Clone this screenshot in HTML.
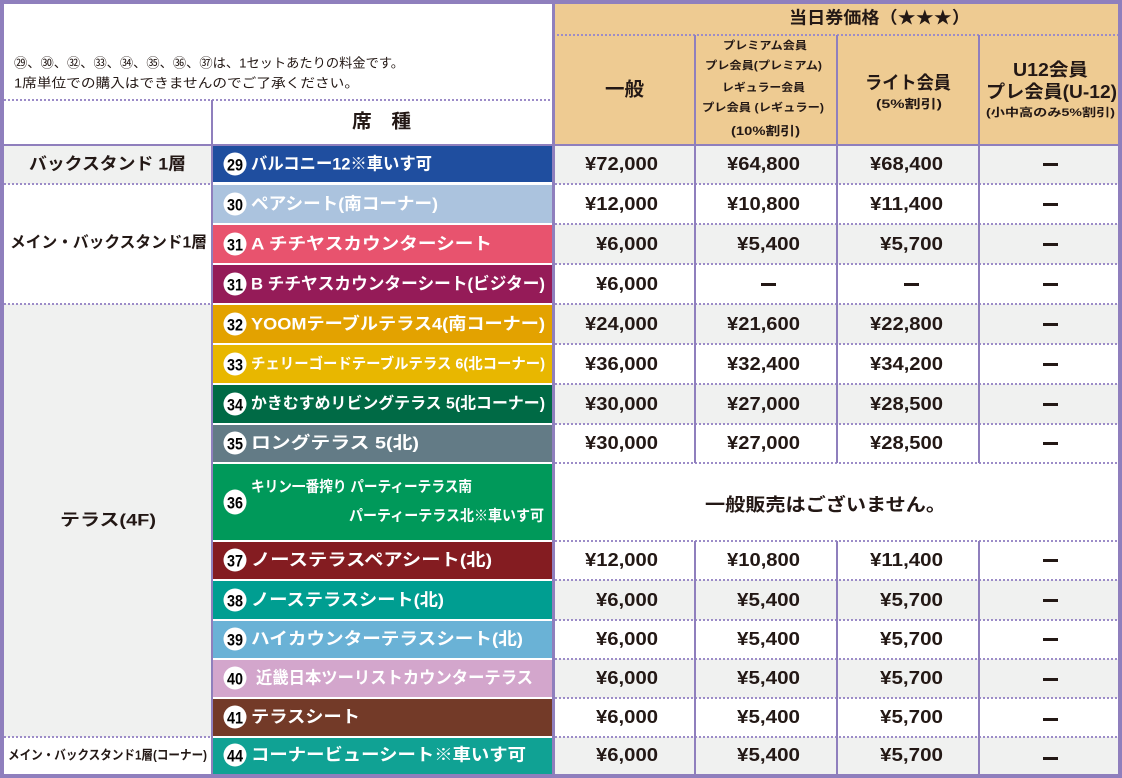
<!DOCTYPE html>
<html><head><meta charset="utf-8"><style>html,body{margin:0;padding:0;background:#fff}svg{display:block}</style></head><body>
<svg width="1122" height="778" viewBox="0 0 1122 778" xmlns="http://www.w3.org/2000/svg" font-family="'Liberation Sans','Noto Sans CJK JP',sans-serif">
<!-- backgrounds -->
<rect x="0" y="0" width="1122" height="778" fill="#fff"/>
<rect x="553" y="4" width="565" height="141" fill="#eecb92"/>
<!-- left label col bgs -->
<rect x="4" y="145" width="207" height="39" fill="#f0f1f0"/>
<rect x="4" y="304" width="207" height="433" fill="#f0f1f0"/>
<!-- price row bgs (gray rows) -->
<g fill="#f0f1f0">
<rect x="555" y="145" width="563" height="39"/>
<rect x="555" y="224" width="563" height="40"/>
<rect x="555" y="304" width="563" height="40"/>
<rect x="555" y="384" width="563" height="40"/>
<rect x="555" y="580" width="563" height="40"/>
<rect x="555" y="659" width="563" height="39"/>
<rect x="555" y="737" width="563" height="37"/>
</g>
<!-- seat cells -->
<g>
<rect x="213" y="145" width="339" height="37" fill="#1f4e9f"/>
<rect x="213" y="185" width="339" height="38" fill="#abc3de"/>
<rect x="213" y="225" width="339" height="38" fill="#e8536e"/>
<rect x="213" y="265" width="339" height="38" fill="#951b58"/>
<rect x="213" y="305" width="339" height="38" fill="#e3a200"/>
<rect x="213" y="345" width="339" height="38" fill="#e8b700"/>
<rect x="213" y="385" width="339" height="38" fill="#006a45"/>
<rect x="213" y="425" width="339" height="37" fill="#637b86"/>
<rect x="213" y="464" width="339" height="76" fill="#00995a"/>
<rect x="213" y="542" width="339" height="37" fill="#841c21"/>
<rect x="213" y="581" width="339" height="38" fill="#009e91"/>
<rect x="213" y="621" width="339" height="37" fill="#6ab2d6"/>
<rect x="213" y="660" width="339" height="37" fill="#d3a6cc"/>
<rect x="213" y="699" width="339" height="37" fill="#733a28"/>
<rect x="213" y="738" width="339" height="36" fill="#10a294"/>
</g>
<!-- dotted lines -->
<g stroke="#9c8cc8" stroke-width="2" stroke-dasharray="2 2" fill="none">
<line x1="553" y1="35" x2="1118" y2="35"/>
<line x1="4" y1="100" x2="553" y2="100"/>
<line x1="4" y1="184" x2="211" y2="184"/>
<line x1="4" y1="304" x2="211" y2="304"/>
<line x1="4" y1="737" x2="211" y2="737"/>
<line x1="555" y1="184" x2="1118" y2="184"/>
<line x1="555" y1="224" x2="1118" y2="224"/>
<line x1="555" y1="264" x2="1118" y2="264"/>
<line x1="555" y1="304" x2="1118" y2="304"/>
<line x1="555" y1="344" x2="1118" y2="344"/>
<line x1="555" y1="384" x2="1118" y2="384"/>
<line x1="555" y1="424" x2="1118" y2="424"/>
<line x1="555" y1="463" x2="1118" y2="463"/>
<line x1="555" y1="541" x2="1118" y2="541"/>
<line x1="555" y1="580" x2="1118" y2="580"/>
<line x1="555" y1="620" x2="1118" y2="620"/>
<line x1="555" y1="659" x2="1118" y2="659"/>
<line x1="555" y1="698" x2="1118" y2="698"/>
<line x1="555" y1="737" x2="1118" y2="737"/>
</g>
<!-- solid purple lines -->
<g fill="#8f7fbd">
<rect x="0" y="0" width="1122" height="4"/>
<rect x="0" y="774" width="1122" height="4"/>
<rect x="0" y="0" width="4" height="778"/>
<rect x="1118" y="0" width="4" height="778"/>
<rect x="0" y="144" width="1122" height="2"/>
<rect x="211" y="100" width="2" height="674"/>
<rect x="552" y="0" width="3" height="778"/>
<rect x="694" y="35" width="2" height="428"/>
<rect x="836" y="35" width="2" height="428"/>
<rect x="978" y="35" width="2" height="428"/>
<rect x="694" y="541" width="2" height="233"/>
<rect x="836" y="541" width="2" height="233"/>
<rect x="978" y="541" width="2" height="233"/>
</g>
<!-- header text -->
<g fill="#231815" dominant-baseline="central">
<text x="14" y="63" font-size="13" textLength="390" lengthAdjust="spacingAndGlyphs">㉙、㉚、㉜、㉝、㉞、㉟、㊱、㊲は、1セットあたりの料金です。</text>
<text x="14" y="83" font-size="13" textLength="345" lengthAdjust="spacingAndGlyphs">1席単位での購入はできませんのでご了承ください。</text>
<text x="352" y="122" font-size="19" font-weight="bold" textLength="59" lengthAdjust="spacingAndGlyphs">席　種</text>
<text x="789" y="18" font-size="17" font-weight="bold" textLength="181" lengthAdjust="spacingAndGlyphs">当日券価格（★★★）</text>
<text x="605" y="90" font-size="19" font-weight="bold" textLength="39" lengthAdjust="spacingAndGlyphs">一般</text>
<text x="723" y="46" font-size="11" font-weight="bold" textLength="84" lengthAdjust="spacingAndGlyphs">プレミアム会員</text>
<text x="705" y="66" font-size="11" font-weight="bold" textLength="117" lengthAdjust="spacingAndGlyphs">プレ会員(プレミアム)</text>
<text x="722" y="88" font-size="11" font-weight="bold" textLength="83" lengthAdjust="spacingAndGlyphs">レギュラー会員</text>
<text x="702" y="108" font-size="11" font-weight="bold" textLength="122" lengthAdjust="spacingAndGlyphs">プレ会員 (レギュラー)</text>
<text x="731" y="131" font-size="12" font-weight="bold" textLength="69" lengthAdjust="spacingAndGlyphs">(10%割引)</text>
<text x="865" y="83" font-size="18" font-weight="bold" textLength="86" lengthAdjust="spacingAndGlyphs">ライト会員</text>
<text x="876" y="104" font-size="12" font-weight="bold" textLength="66" lengthAdjust="spacingAndGlyphs">(5%割引)</text>
<text x="1013" y="70" font-size="18" font-weight="bold" textLength="75" lengthAdjust="spacingAndGlyphs">U12会員</text>
<text x="986" y="92" font-size="18" font-weight="bold" textLength="131" lengthAdjust="spacingAndGlyphs">プレ会員(U-12)</text>
<text x="986" y="113" font-size="11" font-weight="bold" textLength="129" lengthAdjust="spacingAndGlyphs">(小中高のみ5%割引)</text>
<!-- left labels -->
<text x="29" y="164" font-size="17" font-weight="bold" textLength="157" lengthAdjust="spacingAndGlyphs">バックスタンド 1層</text>
<text x="10" y="243" font-size="16" font-weight="bold" textLength="197" lengthAdjust="spacingAndGlyphs">メイン・バックスタンド1層</text>
<text x="60" y="520" font-size="17" font-weight="bold" textLength="96" lengthAdjust="spacingAndGlyphs">テラス(4F)</text>
<text x="8" y="755" font-size="13" font-weight="bold" textLength="199" lengthAdjust="spacingAndGlyphs">メイン・バックスタンド1層(コーナー)</text>
</g>
<!-- circles -->
<g fill="#fff">
<circle cx="235" cy="164" r="11.5"/>
<circle cx="235" cy="204" r="11.5"/>
<circle cx="235" cy="244" r="11.5"/>
<circle cx="235" cy="284" r="11.5"/>
<circle cx="235" cy="324" r="11.5"/>
<circle cx="235" cy="364" r="11.5"/>
<circle cx="235" cy="404" r="11.5"/>
<circle cx="235" cy="443" r="11.5"/>
<ellipse cx="235" cy="502" rx="11.5" ry="12.5"/>
<circle cx="235" cy="560" r="11.5"/>
<circle cx="235" cy="600" r="11.5"/>
<circle cx="235" cy="639" r="11.5"/>
<circle cx="235" cy="678" r="11.5"/>
<circle cx="235" cy="717" r="11.5"/>
<circle cx="235" cy="755" r="11.5"/>
</g>
<g fill="#000" font-size="17" font-weight="bold" dominant-baseline="central" text-anchor="middle">
<text x="235" y="165" textLength="16" lengthAdjust="spacingAndGlyphs">29</text>
<text x="235" y="205" textLength="16" lengthAdjust="spacingAndGlyphs">30</text>
<text x="235" y="245" textLength="16" lengthAdjust="spacingAndGlyphs">31</text>
<text x="235" y="285" textLength="16" lengthAdjust="spacingAndGlyphs">31</text>
<text x="235" y="325" textLength="16" lengthAdjust="spacingAndGlyphs">32</text>
<text x="235" y="365" textLength="16" lengthAdjust="spacingAndGlyphs">33</text>
<text x="235" y="405" textLength="16" lengthAdjust="spacingAndGlyphs">34</text>
<text x="235" y="444" textLength="16" lengthAdjust="spacingAndGlyphs">35</text>
<text x="235" y="503" textLength="16" lengthAdjust="spacingAndGlyphs">36</text>
<text x="235" y="561" textLength="16" lengthAdjust="spacingAndGlyphs">37</text>
<text x="235" y="601" textLength="16" lengthAdjust="spacingAndGlyphs">38</text>
<text x="235" y="640" textLength="16" lengthAdjust="spacingAndGlyphs">39</text>
<text x="235" y="679" textLength="16" lengthAdjust="spacingAndGlyphs">40</text>
<text x="235" y="718" textLength="16" lengthAdjust="spacingAndGlyphs">41</text>
<text x="235" y="756" textLength="16" lengthAdjust="spacingAndGlyphs">44</text>
</g>
<!-- seat names -->
<g fill="#fff" font-size="17" font-weight="bold" dominant-baseline="central" lengthAdjust="spacingAndGlyphs">
<text x="251" y="164" textLength="181" lengthAdjust="spacingAndGlyphs">バルコニー12※車いす可</text>
<text x="251" y="204" textLength="187" lengthAdjust="spacingAndGlyphs">ペアシート(南コーナー)</text>
<text x="251" y="244" textLength="241" lengthAdjust="spacingAndGlyphs">A チチヤスカウンターシート</text>
<text x="251" y="284" textLength="294" lengthAdjust="spacingAndGlyphs">B チチヤスカウンターシート(ビジター)</text>
<text x="251" y="324" textLength="294" lengthAdjust="spacingAndGlyphs">YOOMテーブルテラス4(南コーナー)</text>
<text x="251" y="364" font-size="15" textLength="294" lengthAdjust="spacingAndGlyphs">チェリーゴードテーブルテラス 6(北コーナー)</text>
<text x="251" y="404" font-size="16" textLength="294" lengthAdjust="spacingAndGlyphs">かきむすめリビングテラス 5(北コーナー)</text>
<text x="251" y="443" textLength="168" lengthAdjust="spacingAndGlyphs">ロングテラス 5(北)</text>
<text x="251" y="487" font-size="15" textLength="221" lengthAdjust="spacingAndGlyphs">キリン一番搾り パーティーテラス南</text>
<text x="349" y="516" font-size="15" textLength="195" lengthAdjust="spacingAndGlyphs">パーティーテラス北※車いす可</text>
<text x="251" y="560" textLength="241" lengthAdjust="spacingAndGlyphs">ノーステラスペアシート(北)</text>
<text x="251" y="600" textLength="193" lengthAdjust="spacingAndGlyphs">ノーステラスシート(北)</text>
<text x="251" y="639" textLength="272" lengthAdjust="spacingAndGlyphs">ハイカウンターテラスシート(北)</text>
<text x="256" y="678" textLength="277" lengthAdjust="spacingAndGlyphs">近畿日本ツーリストカウンターテラス</text>
<text x="251" y="717" textLength="109" lengthAdjust="spacingAndGlyphs">テラスシート</text>
<text x="251" y="755" textLength="275" lengthAdjust="spacingAndGlyphs">コーナービューシート※車いす可</text>
</g>
<!-- prices -->
<g fill="#231815" font-size="18" font-weight="bold" dominant-baseline="central" text-anchor="end">
<text x="658" y="164" textLength="73" lengthAdjust="spacingAndGlyphs">¥72,000</text><text x="800" y="164" textLength="73" lengthAdjust="spacingAndGlyphs">¥64,800</text><text x="943" y="164" textLength="73" lengthAdjust="spacingAndGlyphs">¥68,400</text>
<text x="658" y="204" textLength="73" lengthAdjust="spacingAndGlyphs">¥12,000</text><text x="800" y="204" textLength="73" lengthAdjust="spacingAndGlyphs">¥10,800</text><text x="943" y="204" textLength="73" lengthAdjust="spacingAndGlyphs">¥11,400</text>
<text x="658" y="244" textLength="62" lengthAdjust="spacingAndGlyphs">¥6,000</text><text x="800" y="244" textLength="63" lengthAdjust="spacingAndGlyphs">¥5,400</text><text x="943" y="244" textLength="63" lengthAdjust="spacingAndGlyphs">¥5,700</text>
<text x="658" y="284" textLength="62" lengthAdjust="spacingAndGlyphs">¥6,000</text>
<text x="658" y="324" textLength="73" lengthAdjust="spacingAndGlyphs">¥24,000</text><text x="800" y="324" textLength="73" lengthAdjust="spacingAndGlyphs">¥21,600</text><text x="943" y="324" textLength="73" lengthAdjust="spacingAndGlyphs">¥22,800</text>
<text x="658" y="364" textLength="73" lengthAdjust="spacingAndGlyphs">¥36,000</text><text x="800" y="364" textLength="73" lengthAdjust="spacingAndGlyphs">¥32,400</text><text x="943" y="364" textLength="73" lengthAdjust="spacingAndGlyphs">¥34,200</text>
<text x="658" y="404" textLength="73" lengthAdjust="spacingAndGlyphs">¥30,000</text><text x="800" y="404" textLength="73" lengthAdjust="spacingAndGlyphs">¥27,000</text><text x="943" y="404" textLength="73" lengthAdjust="spacingAndGlyphs">¥28,500</text>
<text x="658" y="443" textLength="73" lengthAdjust="spacingAndGlyphs">¥30,000</text><text x="800" y="443" textLength="73" lengthAdjust="spacingAndGlyphs">¥27,000</text><text x="943" y="443" textLength="73" lengthAdjust="spacingAndGlyphs">¥28,500</text>
<text x="658" y="560" textLength="73" lengthAdjust="spacingAndGlyphs">¥12,000</text><text x="800" y="560" textLength="73" lengthAdjust="spacingAndGlyphs">¥10,800</text><text x="943" y="560" textLength="73" lengthAdjust="spacingAndGlyphs">¥11,400</text>
<text x="658" y="600" textLength="62" lengthAdjust="spacingAndGlyphs">¥6,000</text><text x="800" y="600" textLength="63" lengthAdjust="spacingAndGlyphs">¥5,400</text><text x="943" y="600" textLength="63" lengthAdjust="spacingAndGlyphs">¥5,700</text>
<text x="658" y="639" textLength="62" lengthAdjust="spacingAndGlyphs">¥6,000</text><text x="800" y="639" textLength="63" lengthAdjust="spacingAndGlyphs">¥5,400</text><text x="943" y="639" textLength="63" lengthAdjust="spacingAndGlyphs">¥5,700</text>
<text x="658" y="678" textLength="62" lengthAdjust="spacingAndGlyphs">¥6,000</text><text x="800" y="678" textLength="63" lengthAdjust="spacingAndGlyphs">¥5,400</text><text x="943" y="678" textLength="63" lengthAdjust="spacingAndGlyphs">¥5,700</text>
<text x="658" y="717" textLength="62" lengthAdjust="spacingAndGlyphs">¥6,000</text><text x="800" y="717" textLength="63" lengthAdjust="spacingAndGlyphs">¥5,400</text><text x="943" y="717" textLength="63" lengthAdjust="spacingAndGlyphs">¥5,700</text>
<text x="658" y="755" textLength="62" lengthAdjust="spacingAndGlyphs">¥6,000</text><text x="800" y="755" textLength="63" lengthAdjust="spacingAndGlyphs">¥5,400</text><text x="943" y="755" textLength="63" lengthAdjust="spacingAndGlyphs">¥5,700</text>
</g>
<text x="705" y="505" fill="#231815" font-size="18" font-weight="bold" dominant-baseline="central" textLength="241" lengthAdjust="spacingAndGlyphs">一般販売はございません。</text>
<!-- dashes -->
<g fill="#231815">
<rect x="1043" y="163" width="15" height="3"/>
<rect x="1043" y="203" width="15" height="3"/>
<rect x="1043" y="243" width="15" height="3"/>
<rect x="761" y="283" width="15" height="3"/>
<rect x="904" y="283" width="15" height="3"/>
<rect x="1043" y="283" width="15" height="3"/>
<rect x="1043" y="323" width="15" height="3"/>
<rect x="1043" y="363" width="15" height="3"/>
<rect x="1043" y="403" width="15" height="3"/>
<rect x="1043" y="442" width="15" height="3"/>
<rect x="1043" y="559" width="15" height="3"/>
<rect x="1043" y="599" width="15" height="3"/>
<rect x="1043" y="638" width="15" height="3"/>
<rect x="1043" y="678" width="15" height="3"/>
<rect x="1043" y="718" width="15" height="3"/>
<rect x="1043" y="757" width="15" height="3"/>
</g>
</svg>
</body></html>
